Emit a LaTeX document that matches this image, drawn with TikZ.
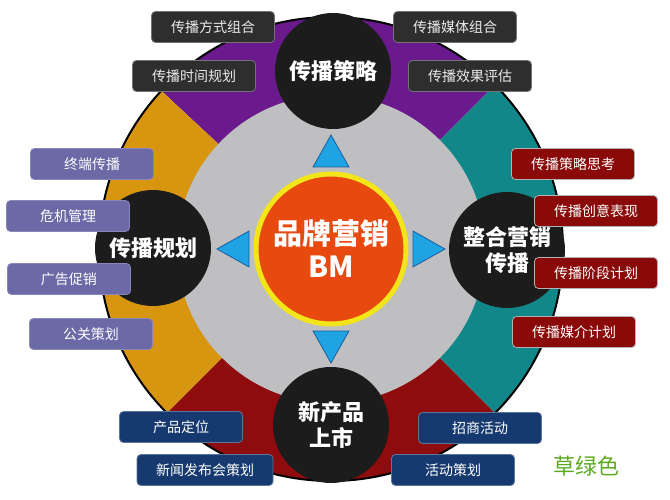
\documentclass[tikz,border=0pt]{standalone}
\usepackage{fontspec}
\setmainfont{Noto Sans CJK SC}
\usetikzlibrary{positioning}

\definecolor{sectpurple}{HTML}{6B1A8E}
\definecolor{sectteal}{HTML}{11878A}
\definecolor{sectred}{HTML}{8E0B0E}
\definecolor{sectgold}{HTML}{D89510}
\definecolor{ringgray}{HTML}{BFBFC1}
\definecolor{bmorange}{HTML}{E8490F}
\definecolor{bmyellow}{HTML}{F2E51A}
\definecolor{tribl}{HTML}{1FA3E3}
\definecolor{triedge}{HTML}{1A5E9E}
\definecolor{boxdark}{HTML}{2E2E2E}
\definecolor{boxlav}{HTML}{6B69A6}
\definecolor{boxred}{HTML}{8A0A0A}
\definecolor{boxnavy}{HTML}{163A6F}
\definecolor{grassgreen}{HTML}{5DAA22}

\begin{document}
\begin{tikzpicture}[x=1pt, y=-1pt, line join=bevel,
  hub/.style={circle, fill=black!89, text=white, minimum size=116pt, align=center,
    font=\fontsize{22}{26}\selectfont\bfseries},
  tag/.style={rounded corners=4pt, minimum width=123pt, minimum height=31pt, text=white,
    font=\fontsize{14}{16}\selectfont, line width=.8pt},
  tagdark/.style={tag, fill=boxdark, draw=black!55, text=black!8},
  taglav/.style={tag, fill=boxlav, draw=boxlav!80},
  tagred/.style={tag, fill=boxred, draw=black!30},
  tagnavy/.style={tag, fill=boxnavy, draw=boxnavy!70},
  pointer/.style={fill=tribl, draw=triedge, line width=.8pt, line join=miter}]
\useasboundingbox[fill=white] (0,0) rectangle (670,500);
\coordinate (c) at (331,249);
% Sectors
\fill[sectpurple] (c) -- +(45:232pt) arc[start angle=45, end angle=137, radius=232pt] -- cycle;
\fill[sectgold] (c) -- +(137:232pt) arc[start angle=137, end angle=225, radius=232pt] -- cycle;
\fill[sectred] (c) -- +(225:232pt) arc[start angle=225, end angle=315, radius=232pt] -- cycle;
\fill[sectteal] (c) -- +(-45:232pt) arc[start angle=-45, end angle=45, radius=232pt] -- cycle;
\draw[line width=2pt] (c) circle[radius=232pt];
\fill[ringgray] (c) circle[radius=154pt];
% Centre
\node[circle, fill=bmorange, draw=bmyellow, line width=5pt, minimum size=150pt, align=center,
  text=white, font=\fontsize{29}{33}\selectfont\bfseries] (bm) at (c) {品牌营销\\BM};
% Pointers
\foreach \a in {0,90,180,270}{
  \begin{scope}[shift={(c)}, rotate=\a]
  \draw[pointer] (114,0) -- (82,-18) -- (82,18) -- cycle;
  \end{scope}
}
% Hubs
\node[hub] (strategy) at (333,71) {传播策略};
\node[hub] (planning) at (153,248) {传播规划};
\node[hub] (integrate) at (507,250) {整合营销\\传播};
\node[hub] (launch) at (331,425) {新产品\\上市};
% Tags
\node[tagdark] (modemix) at (213,27) {传播方式组合};
\node[tagdark] (timeplan) at (194,76) {传播时间规划};
\node[tagdark] (mediamix) at (455,27) {传播媒体组合};
\node[tagdark] (effect) at (470,76) {传播效果评估};

\node[taglav] (terminal) at (92,164) {终端传播};
\node[taglav] (crisis) at (68,216) {危机管理};
\node[taglav] (promo) at (69,279) {广告促销};
\node[taglav] (pr) at (91,334) {公关策划};

\node[tagred] (think) at (573,164) {传播策略思考};
\node[tagred] (creative) at (596,211) {传播创意表现};
\node[tagred] (stage) at (596,273) {传播阶段计划};
\node[tagred] (medium) at (574,332) {传播媒介计划};

\node[tagnavy] (position) at (181,427) {产品定位};
\node[tagnavy, minimum width=136pt] (press) at (205,470) {新闻发布会策划};
\node[tagnavy] (invest) at (480,428) {招商活动};
\node[tagnavy] (event) at (453,470) {活动策划};

\node[text=grassgreen, font=\fontsize{22}{24}\selectfont] (note) at (586,466) {草绿色};
\end{tikzpicture}
\end{document}
